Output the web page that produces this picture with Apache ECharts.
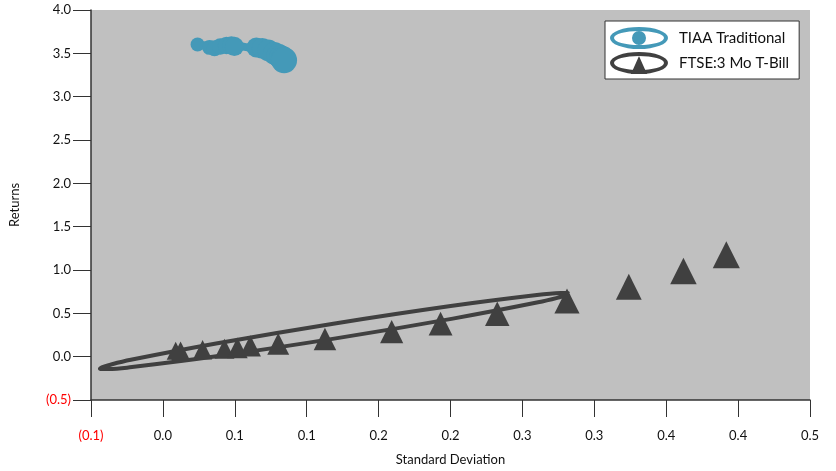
<!DOCTYPE html>
<html>
<head>
<meta charset="utf-8">
<script src="https://cdn.jsdelivr.net/npm/echarts@6/dist/echarts.min.js"></script>
<style>
  html, body { margin: 0; padding: 0; background: #ffffff; }
  #chart { width: 836px; height: 471px; }
</style>
</head>
<body>
<div id="chart"></div>
<script>
// ---- Data ----
const seriesNames = ['TIAA Traditional', 'FTSE:3 Mo T-Bill'];

// TIAA Traditional: [standard deviation, return]
const tiaaPoints = [
  [0.0241, 3.602], [0.0324, 3.568], [0.0359, 3.557], [0.0400, 3.580],
  [0.0442, 3.591], [0.0476, 3.591], [0.0497, 3.580], [0.0650, 3.568],
  [0.0691, 3.557], [0.0733, 3.534], [0.0774, 3.500], [0.0802, 3.477],
  [0.0823, 3.455], [0.0837, 3.432], [0.0843, 3.420]
];

// FTSE 3 Month T-Bill: [standard deviation, return]
const tbillPoints = [
  [0.0089, 0.068], [0.0123, 0.068], [0.0276, 0.080], [0.0428, 0.091],
  [0.0518, 0.102], [0.0608, 0.125], [0.0802, 0.148], [0.1127, 0.205],
  [0.1591, 0.290], [0.1931, 0.381], [0.2325, 0.494], [0.2810, 0.642],
  [0.3240, 0.807], [0.3620, 0.989], [0.3918, 1.176]
];

// Outline loops drawn around each series
const tiaaLoop = [
  [0.0220, 3.602], [0.0380, 3.625], [0.0553, 3.602], [0.0726, 3.534],
  [0.0864, 3.432], [0.0726, 3.489], [0.0553, 3.557], [0.0380, 3.568],
  [0.0220, 3.602]
];
const tbillLoop = [
  [0.2824, 0.727], [0.2812, 0.713], [0.2771, 0.691], [0.2609, 0.627],
  [0.2016, 0.439], [0.1202, 0.211], [0.0385, 0.007], [-0.0215, -0.120],
  [-0.0380, -0.143], [-0.0422, -0.143], [-0.0438, -0.136], [-0.0425, -0.122],
  [-0.0384, -0.100], [-0.0223, -0.036], [0.0370, 0.152], [0.1185, 0.380],
  [0.2001, 0.584], [0.2601, 0.711], [0.2767, 0.734], [0.2809, 0.735],
  [0.2824, 0.727]
];

// Axis settings
const xMin = -0.05, xMax = 0.45, xStep = 0.05;
const yMin = -0.5, yMax = 4.0, yStep = 0.5;

// ---- Styles ----
const blue = '#4499b8';
const dark = '#404040';
const FONT = 'Lato, "Open Sans", "DejaVu Sans", sans-serif';

function fmt(v) {
  const r = (Math.round(Math.abs(v) * 10 + 1e-9) / 10).toFixed(1);
  return v < -1e-9 ? '(' + r + ')' : r;
}
function labelColor(v) {
  return v < -1e-9 ? '#ff0000' : '#111111';
}

const ringPath = 'M0,11 A29,11 0 1,1 58,11 A29,11 0 1,1 0,11 Z ' +
                 'M4,11 A25,7 0 1,0 54,11 A25,7 0 1,0 4,11 Z ';
const iconCircle = 'path://' + ringPath + 'M22,11 A7,7 0 1,1 36,11 A7,7 0 1,1 22,11 Z';
const iconTriangle = 'path://' + ringPath + 'M29,4 L37,22 L21,22 Z';

const chart = echarts.init(document.getElementById('chart'), null, { renderer: 'canvas' });

chart.setOption({
  animation: false,
  backgroundColor: '#ffffff',
  textStyle: { fontFamily: FONT },
  grid: {
    left: 88, right: 26, top: 10, bottom: 65,
    show: true, backgroundColor: '#c0c0c0', borderWidth: 0
  },
  legend: {
    data: [
      { name: seriesNames[0], icon: iconCircle },
      { name: seriesNames[1], icon: iconTriangle }
    ],
    orient: 'vertical',
    left: 605, top: 21,
    itemWidth: 58, itemHeight: 22, itemGap: 3,
    padding: [6, 10, 5, 5],
    backgroundColor: '#ffffff',
    borderColor: '#333333', borderWidth: 1, borderRadius: 0,
    textStyle: { fontFamily: FONT, fontSize: 15, color: '#111111', padding: [0, 0, 0, 6] },
    selectedMode: false
  },
  xAxis: {
    type: 'value',
    min: xMin, max: xMax, interval: xStep,
    name: 'Standard Deviation',
    nameLocation: 'middle', nameGap: 53,
    nameTextStyle: { fontFamily: FONT, fontSize: 13, color: '#111111' },
    axisLine: { show: true, onZero: false, lineStyle: { color: '#333333', width: 1.5 } },
    axisTick: { show: true, length: 17, lineStyle: { color: '#333333', width: 1 } },
    axisLabel: { margin: 29, fontSize: 13, fontFamily: FONT, formatter: fmt, color: labelColor },
    splitLine: { show: false }
  },
  yAxis: {
    type: 'value',
    min: yMin, max: yMax, interval: yStep,
    name: 'Returns',
    nameLocation: 'middle', nameGap: 70, nameRotate: 90,
    nameTextStyle: { fontFamily: FONT, fontSize: 13, color: '#111111' },
    axisLine: { show: true, onZero: false, lineStyle: { color: '#333333', width: 1.5 } },
    axisTick: { show: true, length: 18, lineStyle: { color: '#333333', width: 1 } },
    axisLabel: { margin: 20, fontSize: 13, fontFamily: FONT, formatter: fmt, color: labelColor },
    splitLine: { show: false }
  },
  series: [
    {
      name: 'tiaaLoop', type: 'line', data: tiaaLoop, smooth: 0.4,
      symbol: 'none', lineStyle: { color: blue, width: 4 }, z: 2, silent: true
    },
    {
      name: 'tbillLoop', type: 'line', data: tbillLoop, smooth: 0.4,
      symbol: 'none', lineStyle: { color: dark, width: 4 }, z: 2, silent: true
    },
    {
      name: seriesNames[0], type: 'scatter', data: tiaaPoints,
      symbol: 'circle',
      symbolSize: (v, p) => 14 + p.dataIndex * 0.85,
      itemStyle: { color: blue, opacity: 1 }, z: 3
    },
    {
      name: seriesNames[1], type: 'scatter', data: tbillPoints,
      symbol: 'triangle',
      symbolSize: (v, p) => 18 + p.dataIndex * 0.65,
      itemStyle: { color: dark, opacity: 1 }, z: 3
    }
  ]
});
</script>
</body>
</html>
